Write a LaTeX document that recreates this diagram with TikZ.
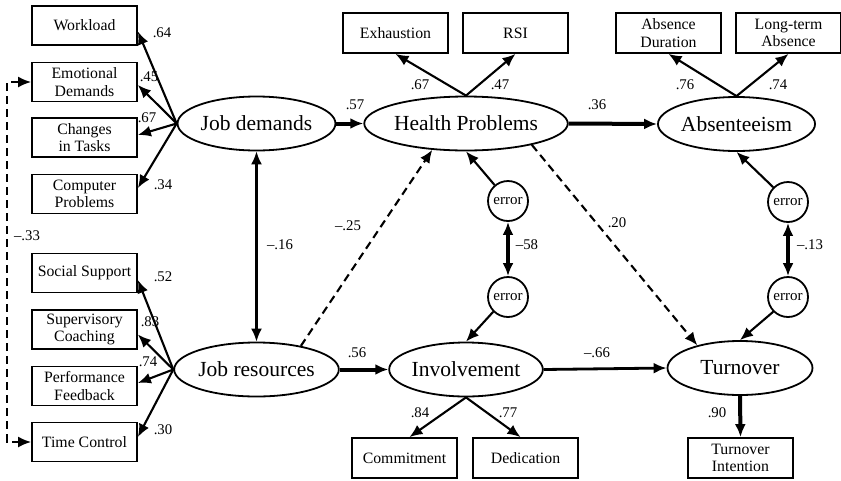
\documentclass[tikz,border=0pt]{standalone}
\usepackage{fontspec}
\setmainfont{Liberation Serif}
\usetikzlibrary{calc,shapes,arrows.meta,positioning}

\begin{document}
\begin{tikzpicture}[x=1pt,y=-1pt,
	box/.style={draw,line width=1.8pt,minimum width=105pt,minimum height=39pt,align=center,inner sep=1pt,font=\fontsize{15.8}{17.5}\selectfont},
	latent/.style={draw,ellipse,line width=1.8pt,minimum width=147pt,minimum height=54pt,inner sep=0pt,font=\fontsize{21.5}{24}\selectfont},
	err/.style={draw,circle,line width=1.8pt,minimum size=40pt,inner sep=0pt,font=\fontsize{15}{17}\selectfont},
	lbl/.style={font=\fontsize{14.8}{16}\selectfont,inner sep=0pt},
	arr/.style={-{Latex[length=13pt,width=11pt]},line width=2.1pt},
	barr/.style={{Latex[length=13pt,width=11pt]}-{Latex[length=13pt,width=11pt]},line width=2.1pt},
	dashline/.style={dash pattern=on 8pt off 5pt}]
	\useasboundingbox (0,0) rectangle (841,480);
	% indicators on the left
	\node(work) [box] at (84.5,25.5) {Workload};
	\node(emo) [box] at (84.5,82) {Emotional\\Demands};
	\node(chg) [box] at (84.5,137.5) {Changes\\in Tasks};
	\node(comp) [box] at (84.5,194) {Computer\\Problems};
	\node(soc) [box] at (84.5,273) {Social Support};
	\node(sup) [box] at (84.5,329.5) {Supervisory\\Coaching};
	\node(perf) [box] at (84.5,386) {Performance\\Feedback};
	\node(time) [box] at (84.5,442) {Time Control};
	% latent variables
	\node(jd) [latent] at (256.5,123.5) {Job demands};
	\node(jr) [latent] at (256.5,369.5) {Job resources};
	\node(hp) [latent] at (466,123.5) {Health Problems};
	\node(inv) [latent] at (466,369.5) {Involvement};
	\node(abs) [latent,minimum width=143pt] at (736.5,124) {Absenteeism};
	\node(turn) [latent,minimum width=145pt] at (740,368) {Turnover};
	% outcome indicators
	\node(exh) [box,minimum height=40pt] at (395.5,33) {Exhaustion};
	\node(rsi) [box,minimum height=40pt] at (515.5,33) {RSI};
	\node(absd) [box,minimum height=40pt] at (668.5,33) {Absence\\Duration};
	\node(lta) [box,minimum height=40pt] at (788.5,33) {Long-term\\Absence};
	\node(com) [box,minimum height=40pt] at (404.5,458) {Commitment};
	\node(ded) [box,minimum height=40pt] at (525.5,458) {Dedication};
	\node(ti) [box,minimum height=40pt] at (740.5,458) {Turnover\\Intention};
	% error terms
	\node(e1) [err] at (508,201) {error};
	\node(e2) [err] at (508,297) {error};
	\node(e3) [err] at (788,202) {error};
	\node(e4) [err] at (788,297) {error};
	% loadings
	\draw[arr] (jd.west) -> ([yshift=-6pt]work.east);
	\draw[arr] (jd.west) -> ([yshift=-3pt]emo.east);
	\draw[arr] (jd.west) -> ([yshift=2.5pt]chg.east);
	\draw[arr] (jd.west) -> ([yshift=6pt]comp.east);
	\draw[arr] (jr.west) -> ([yshift=-7pt]soc.east);
	\draw[arr] (jr.west) -> ([yshift=-5pt]sup.east);
	\draw[arr] (jr.west) -> ([yshift=3pt]perf.east);
	\draw[arr] (jr.west) -> ([yshift=5pt]time.east);
	\draw[arr] (hp.north) -> (exh.south);
	\draw[arr] (hp.north) -> (rsi.south);
	\draw[arr] (abs.north) -> (absd.south);
	\draw[arr] (abs.north) -> (lta.south);
	\draw[arr] (inv.south) -> ([xshift=5pt]com.north);
	\draw[arr] (inv.south) -> ([xshift=-5pt]ded.north);
	\draw[arr,line width=4pt] (turn.south) -> (ti.north);
	% structural paths
	\draw[arr,line width=4pt] (jd.east) -> (hp.west);
	\draw[arr,line width=4pt] (hp.east) -> (abs.west);
	\draw[arr,line width=4pt] (jr.east) -> (inv.west);
	\draw[arr,line width=2.8pt] (inv.east) -> (turn.west);
	\draw[arr,dashline] (jr.28) -> (hp.218);
	\draw[arr,dashline] (hp.-18) -> (turn.152);
	\draw[barr] (jd.south) -> (jr.north);
	\draw[barr,line width=1.9pt,dashline] (emo.west) -- ++(-24,0) |- (time.west);
	% errors
	\draw[arr] (e1.130) -> (hp.south);
	\draw[arr] (e3.135) -> (abs.south);
	\draw[arr] (e2.225) -> (inv.north);
	\draw[arr] (e4.225) -> (turn.north);
	\draw[barr,line width=4pt] (e1.south) -> (e2.north);
	\draw[barr,line width=4pt] (e3.south) -> (e4.north);
	% coefficients
	\node(l1) [lbl] at (162,33) {.64};
	\node(l2) [lbl] at (149,77) {.45};
	\node(l3) [lbl] at (147,118) {.67};
	\node(l4) [lbl] at (163,185) {.34};
	\node(l5) [lbl] at (163,277) {.52};
	\node(l6) [lbl] at (150,322) {.83};
	\node(l7) [lbl] at (148,362) {.74};
	\node(l8) [lbl] at (163,430) {.30};
	\node(l9) [lbl] at (420,85) {.67};
	\node(l10) [lbl] at (500,85) {.47};
	\node(l11) [lbl] at (355,105) {.57};
	\node(l12) [lbl] at (597,105) {.36};
	\node(l13) [lbl] at (685,85) {.76};
	\node(l14) [lbl] at (778,85) {.74};
	\node(l15) [lbl] at (280,245) {–.16};
	\node(l16) [lbl] at (348,226) {–.25};
	\node(l17) [lbl] at (617,223) {.20};
	\node(l18) [lbl] at (527,245) {–58};
	\node(l19) [lbl] at (810,245) {–.13};
	\node(l20) [lbl] at (27,236) {–.33};
	\node(l21) [lbl] at (357,353) {.56};
	\node(l22) [lbl] at (597,353) {–.66};
	\node(l23) [lbl] at (420,413) {.84};
	\node(l24) [lbl] at (508,413) {.77};
	\node(l25) [lbl] at (717,413) {.90};
\end{tikzpicture}
\end{document}
